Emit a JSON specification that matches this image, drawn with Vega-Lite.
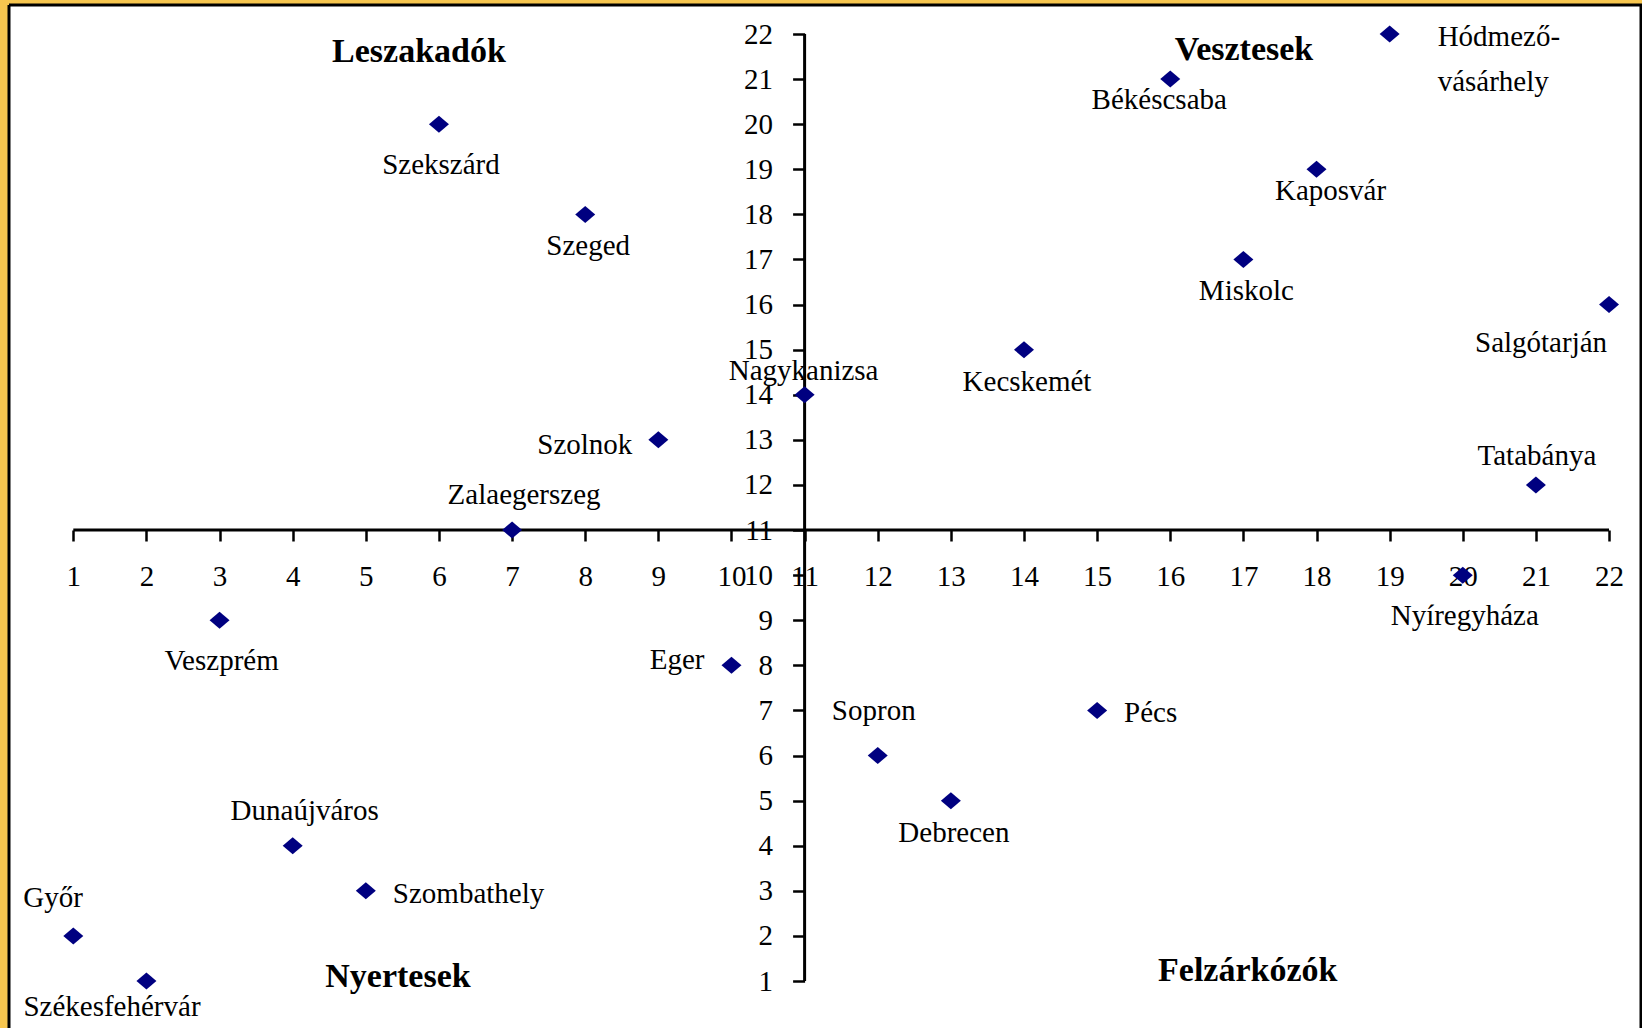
{
  "$schema": "https://vega.github.io/schema/vega-lite/v6.json",
  "width": 1632,
  "height": 1023,
  "autosize": {"type": "none"},
  "padding": {"left": 9, "top": 5, "right": 1, "bottom": 0},
  "background": "#F7C64F",
  "datasets": {
    "cities": [
      {"city": "Székesfehérvár", "x": 2, "y": 1},
      {"city": "Győr", "x": 1, "y": 2},
      {"city": "Szombathely", "x": 5, "y": 3},
      {"city": "Dunaújváros", "x": 4, "y": 4},
      {"city": "Debrecen", "x": 13, "y": 5},
      {"city": "Sopron", "x": 12, "y": 6},
      {"city": "Pécs", "x": 15, "y": 7},
      {"city": "Eger", "x": 10, "y": 8},
      {"city": "Veszprém", "x": 3, "y": 9},
      {"city": "Nyíregyháza", "x": 20, "y": 10},
      {"city": "Zalaegerszeg", "x": 7, "y": 11},
      {"city": "Tatabánya", "x": 21, "y": 12},
      {"city": "Szolnok", "x": 9, "y": 13},
      {"city": "Nagykanizsa", "x": 11, "y": 14},
      {"city": "Kecskemét", "x": 14, "y": 15},
      {"city": "Salgótarján", "x": 22, "y": 16},
      {"city": "Miskolc", "x": 17, "y": 17},
      {"city": "Szeged", "x": 8, "y": 18},
      {"city": "Kaposvár", "x": 18, "y": 19},
      {"city": "Szekszárd", "x": 6, "y": 20},
      {"city": "Békéscsaba", "x": 16, "y": 21},
      {"city": "Hódmező-\nvásárhely", "x": 19, "y": 22}
    ]
  },
  "layer": [
    {
      "data": {"values": [{"a": 1}]},
      "mark": {"type": "rule", "strokeWidth": 3, "color": "black"},
      "encoding": {
        "x": {"datum": 1, "type": "quantitative", "scale": {"domain": [0.1207, 22.4371], "nice": false, "zero": false}},
        "x2": {"datum": 22},
        "y": {"datum": 11, "type": "quantitative", "scale": {"domain": [-0.0419, 22.6431], "nice": false, "zero": false}}
      }
    },
    {
      "data": {"values": [{"a": 1}]},
      "mark": {"type": "rule", "strokeWidth": 3, "color": "black"},
      "encoding": {
        "x": {"datum": 11, "type": "quantitative", "scale": {"domain": [0.1207, 22.4371], "nice": false, "zero": false}},
        "y": {"datum": 1, "type": "quantitative", "scale": {"domain": [-0.0419, 22.6431], "nice": false, "zero": false}},
        "y2": {"datum": 22}
      }
    },
    {
      "data": {"name": "cities"},
      "encoding": {
        "x": {
          "field": "x", "type": "quantitative",
          "scale": {"domain": [0.1207, 22.4371], "nice": false, "zero": false},
          "axis": {
            "orient": "bottom", "offset": -498, "zindex": 0, "format": "d",
            "values": [1,2,3,4,5,6,7,8,9,10,11,12,13,14,15,16,17,18,19,20,21,22],
            "domain": false, "grid": false, "ticks": true,
            "tickSize": 11, "tickWidth": 2.5, "tickColor": "black",
            "labelFont": "Liberation Serif", "labelFontSize": 29, "labelColor": "black",
            "labelPadding": 21, "labelOverlap": false, "labelFlush": false, "labelBound": false,
            "title": null
          }
        },
        "y": {
          "field": "y", "type": "quantitative",
          "scale": {"domain": [-0.0419, 22.6431], "nice": false, "zero": false},
          "axis": {
            "orient": "left", "offset": -795.6, "zindex": 0, "format": "d",
            "values": [1,2,3,4,5,6,7,8,9,10,11,12,13,14,15,16,17,18,19,20,21,22],
            "domain": false, "grid": false, "ticks": true,
            "tickSize": 12, "tickWidth": 2.5, "tickColor": "black",
            "labelFont": "Liberation Serif", "labelFontSize": 29, "labelColor": "black",
            "labelPadding": 20, "labelOverlap": false, "labelFlush": false, "labelBound": false,
            "title": null
          }
        }
      },
      "layer": [
        {
          "mark": {"type": "point", "shape": "M-1,0L0,-0.85L1,0L0,0.85Z", "size": 400, "filled": true, "color": "#000080", "opacity": 1, "strokeWidth": 0}
        },
        {
          "transform": [{"filter": {"field": "city", "oneOf": ["Szeged", "Kecskemét", "Miskolc", "Debrecen"]}}],
          "mark": {"type": "text", "font": "Liberation Serif", "fontSize": 29, "color": "black", "align": "center", "baseline": "middle", "dx": 3, "dy": 32},
          "encoding": {"text": {"field": "city"}}
        },
        {
          "transform": [{"filter": {"field": "city", "oneOf": ["Szekszárd", "Veszprém", "Nyíregyháza"]}}],
          "mark": {"type": "text", "font": "Liberation Serif", "fontSize": 29, "color": "black", "align": "center", "baseline": "middle", "dx": 2, "dy": 41},
          "encoding": {"text": {"field": "city"}}
        },
        {
          "transform": [{"filter": {"field": "city", "oneOf": ["Békéscsaba"]}}],
          "mark": {"type": "text", "font": "Liberation Serif", "fontSize": 29, "color": "black", "align": "center", "baseline": "middle", "dx": -11, "dy": 21},
          "encoding": {"text": {"field": "city"}}
        },
        {
          "transform": [{"filter": {"field": "city", "oneOf": ["Kaposvár"]}}],
          "mark": {"type": "text", "font": "Liberation Serif", "fontSize": 29, "color": "black", "align": "center", "baseline": "middle", "dx": 14, "dy": 22},
          "encoding": {"text": {"field": "city"}}
        },
        {
          "transform": [{"filter": {"field": "city", "oneOf": ["Salgótarján"]}}],
          "mark": {"type": "text", "font": "Liberation Serif", "fontSize": 29, "color": "black", "align": "center", "baseline": "middle", "dx": -68, "dy": 38},
          "encoding": {"text": {"field": "city"}}
        },
        {
          "transform": [{"filter": {"field": "city", "oneOf": ["Székesfehérvár"]}}],
          "mark": {"type": "text", "font": "Liberation Serif", "fontSize": 29, "color": "black", "align": "left", "baseline": "middle", "dx": -123, "dy": 26},
          "encoding": {"text": {"field": "city"}}
        },
        {
          "transform": [{"filter": {"field": "city", "oneOf": ["Győr"]}}],
          "mark": {"type": "text", "font": "Liberation Serif", "fontSize": 29, "color": "black", "align": "left", "baseline": "middle", "dx": -50, "dy": -38},
          "encoding": {"text": {"field": "city"}}
        },
        {
          "transform": [{"filter": {"field": "city", "oneOf": ["Dunaújváros", "Zalaegerszeg"]}}],
          "mark": {"type": "text", "font": "Liberation Serif", "fontSize": 29, "color": "black", "align": "center", "baseline": "middle", "dx": 12, "dy": -35},
          "encoding": {"text": {"field": "city"}}
        },
        {
          "transform": [{"filter": {"field": "city", "oneOf": ["Nagykanizsa"]}}],
          "mark": {"type": "text", "font": "Liberation Serif", "fontSize": 29, "color": "black", "align": "center", "baseline": "middle", "dx": -1, "dy": -24},
          "encoding": {"text": {"field": "city"}}
        },
        {
          "transform": [{"filter": {"field": "city", "oneOf": ["Tatabánya"]}}],
          "mark": {"type": "text", "font": "Liberation Serif", "fontSize": 29, "color": "black", "align": "center", "baseline": "middle", "dx": 1, "dy": -29},
          "encoding": {"text": {"field": "city"}}
        },
        {
          "transform": [{"filter": {"field": "city", "oneOf": ["Sopron"]}}],
          "mark": {"type": "text", "font": "Liberation Serif", "fontSize": 29, "color": "black", "align": "center", "baseline": "middle", "dx": -4, "dy": -45},
          "encoding": {"text": {"field": "city"}}
        },
        {
          "transform": [{"filter": {"field": "city", "oneOf": ["Eger"]}}],
          "mark": {"type": "text", "font": "Liberation Serif", "fontSize": 29, "color": "black", "align": "right", "baseline": "middle", "dx": -27, "dy": -5},
          "encoding": {"text": {"field": "city"}}
        },
        {
          "transform": [{"filter": {"field": "city", "oneOf": ["Szolnok"]}}],
          "mark": {"type": "text", "font": "Liberation Serif", "fontSize": 29, "color": "black", "align": "right", "baseline": "middle", "dx": -26, "dy": 5},
          "encoding": {"text": {"field": "city"}}
        },
        {
          "transform": [{"filter": {"field": "city", "oneOf": ["Szombathely", "Pécs"]}}],
          "mark": {"type": "text", "font": "Liberation Serif", "fontSize": 29, "color": "black", "align": "left", "baseline": "middle", "dx": 27, "dy": 3},
          "encoding": {"text": {"field": "city"}}
        },
        {
          "transform": [{"filter": {"field": "city", "oneOf": ["Hódmező-\nvásárhely"]}}],
          "mark": {"type": "text", "font": "Liberation Serif", "fontSize": 29, "color": "black", "align": "left", "baseline": "alphabetic", "dx": 48, "dy": 12, "lineBreak": "\n", "lineHeight": 45},
          "encoding": {"text": {"field": "city"}}
        }
      ]
    },
    {
      "data": {"values": [{"t": "Leszakadók"}]},
      "mark": {"type": "text", "font": "Liberation Serif", "fontSize": 34, "fontWeight": "bold", "color": "black", "align": "center", "baseline": "middle"},
      "encoding": {
        "x": {"datum": 5.727, "type": "quantitative", "scale": {"domain": [0.1207, 22.4371], "nice": false, "zero": false}},
        "y": {"datum": 21.61, "type": "quantitative", "scale": {"domain": [-0.0419, 22.6431], "nice": false, "zero": false}},
        "text": {"field": "t"}
      }
    },
    {
      "data": {"values": [{"t": "Vesztesek"}]},
      "mark": {"type": "text", "font": "Liberation Serif", "fontSize": 34, "fontWeight": "bold", "color": "black", "align": "center", "baseline": "middle"},
      "encoding": {
        "x": {"datum": 17.008, "type": "quantitative", "scale": {"domain": [0.1207, 22.4371], "nice": false, "zero": false}},
        "y": {"datum": 21.64, "type": "quantitative", "scale": {"domain": [-0.0419, 22.6431], "nice": false, "zero": false}},
        "text": {"field": "t"}
      }
    },
    {
      "data": {"values": [{"t": "Nyertesek"}]},
      "mark": {"type": "text", "font": "Liberation Serif", "fontSize": 34, "fontWeight": "bold", "color": "black", "align": "center", "baseline": "middle"},
      "encoding": {
        "x": {"datum": 5.44, "type": "quantitative", "scale": {"domain": [0.1207, 22.4371], "nice": false, "zero": false}},
        "y": {"datum": 1.09, "type": "quantitative", "scale": {"domain": [-0.0419, 22.6431], "nice": false, "zero": false}},
        "text": {"field": "t"}
      }
    },
    {
      "data": {"values": [{"t": "Felzárkózók"}]},
      "mark": {"type": "text", "font": "Liberation Serif", "fontSize": 34, "fontWeight": "bold", "color": "black", "align": "center", "baseline": "middle"},
      "encoding": {
        "x": {"datum": 17.06, "type": "quantitative", "scale": {"domain": [0.1207, 22.4371], "nice": false, "zero": false}},
        "y": {"datum": 1.23, "type": "quantitative", "scale": {"domain": [-0.0419, 22.6431], "nice": false, "zero": false}},
        "text": {"field": "t"}
      }
    }
  ],
  "config": {
    "view": {"fill": "white", "stroke": "black", "strokeWidth": 3, "strokeDash": [2655, 1632, 1023, 0]}
  }
}
